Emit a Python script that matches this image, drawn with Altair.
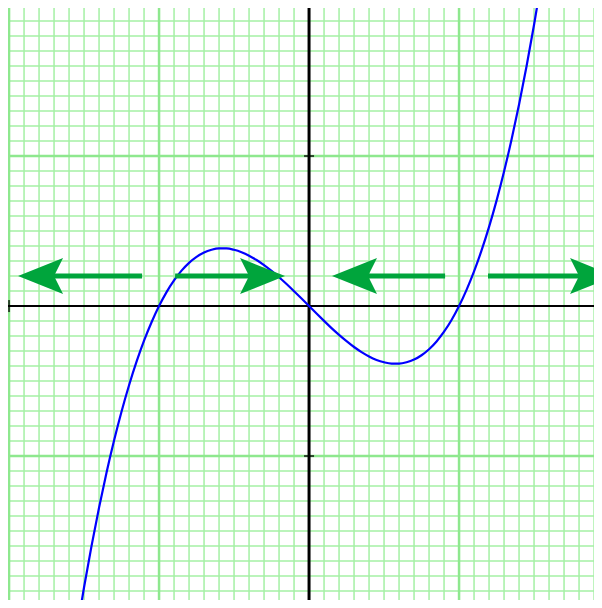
import altair as alt
import pandas as pd

# Curve readings (x, y) in graph units
curve_x = [-16, -15.5, -15, -14.5, -14, -13.5, -13, -12.5, -12, -11.5, -11, -10.5,
           -10, -9.5, -9, -8.5, -8, -7.5, -7, -6.5, -6, -5.5, -5, -4.5, -4, -3.5,
           -3, -2.5, -2, -1.5, -1, -0.5, 0, 0.5, 1, 1.5, 2, 2.5, 3, 3.5, 4, 4.5,
           5, 5.5, 6, 6.5, 7, 7.5, 8, 8.5, 9, 9.5, 10, 10.5, 11, 11.5, 12, 12.5,
           13, 13.5, 14, 14.5, 15, 15.5, 16]
curve_y = [-24.96, -21.74, -18.75, -15.99, -13.44, -11.10, -8.97, -7.03, -5.28, -3.71,
           -2.31, -1.08, 0.0, 0.93, 1.71, 2.36, 2.88, 3.28, 3.57, 3.75, 3.84, 3.84,
           3.75, 3.59, 3.36, 3.07, 2.73, 2.34, 1.92, 1.47, 0.99, 0.50, 0.0, -0.50,
           -0.99, -1.47, -1.92, -2.34, -2.73, -3.07, -3.36, -3.59, -3.75, -3.84,
           -3.84, -3.75, -3.57, -3.28, -2.88, -2.36, -1.71, -0.93, 0.0, 1.08, 2.31,
           3.71, 5.28, 7.03, 8.97, 11.10, 13.44, 15.99, 18.75, 21.74, 24.96]

# Grid positions
minor_grid = [-20, -19, -18, -17, -16, -15, -14, -13, -12, -11, -9, -8, -7, -6, -5,
              -4, -3, -2, -1, 1, 2, 3, 4, 5, 6, 7, 8, 9, 11, 12, 13, 14, 15, 16, 17,
              18, 19, 20]
major_grid = [-20, -10, 10, 20]
y_ticks = [-10, 10]
x_ticks = [-20]

# Arrows
arrow_y = [2, 2, 2, 2]
arrow_tail = [-11.13, -8.93, 9.07, 11.93]
arrow_tip = [-19.4, -1.6, 1.53, 20.4]
arrow_dir = ["left", "right", "left", "right"]

W, H = 586, 592
X0 = -20.07
X1 = X0 + W / 15
Y1 = 19.87
Y0 = Y1 - H / 15
GREEN = "#00a53c"

xs = alt.Scale(domain=[X0, X1], nice=False, zero=False)
ys = alt.Scale(domain=[Y0, Y1], nice=False, zero=False)

curve = pd.DataFrame({"x": curve_x, "y": curve_y})
minor = pd.DataFrame({"v": minor_grid})
major = pd.DataFrame({"v": major_grid})
yt = pd.DataFrame({"v": y_ticks})
xt = pd.DataFrame({"v": x_ticks})
arrows = pd.DataFrame({"y": arrow_y, "tail": arrow_tail, "tip": arrow_tip, "dir": arrow_dir})
sign = arrows["dir"].map({"left": 1, "right": -1})
arrows["shaft_end"] = arrows["tip"] + sign * 2.2
origin = pd.DataFrame({"v": [0]})

noaxis = alt.Axis(labels=False, ticks=False, domain=False, grid=False, title=None)

minor_v = alt.Chart(minor).mark_rule(color="#a4f0a4", strokeWidth=1.5).encode(
    x=alt.X("v:Q", scale=xs, axis=noaxis))
minor_h = alt.Chart(minor).mark_rule(color="#a4f0a4", strokeWidth=1.5).encode(
    y=alt.Y("v:Q", scale=ys, axis=noaxis))
major_v = alt.Chart(major).mark_rule(color="#8ee88e", strokeWidth=2.5).encode(
    x=alt.X("v:Q", scale=xs, axis=noaxis))
major_h = alt.Chart(major).mark_rule(color="#8ee88e", strokeWidth=2.5).encode(
    y=alt.Y("v:Q", scale=ys, axis=noaxis))

axis_v = alt.Chart(origin).mark_rule(color="black", strokeWidth=3).encode(
    x=alt.X("v:Q", scale=xs, axis=noaxis))
axis_h = alt.Chart(origin).mark_rule(color="black", strokeWidth=2).encode(
    y=alt.Y("v:Q", scale=ys, axis=noaxis))

ytick = alt.Chart(yt).mark_tick(color="black", orient="horizontal", size=10,
                                thickness=2).encode(
    x=alt.datum(0, scale=xs), y=alt.Y("v:Q", scale=ys, axis=noaxis))
xtick = alt.Chart(xt).mark_tick(color="black", orient="vertical", size=12,
                                thickness=2).encode(
    x=alt.X("v:Q", scale=xs, axis=noaxis), y=alt.datum(0, scale=ys))

line = alt.Chart(curve).mark_line(color="#0000ff", strokeWidth=2.2,
                                  interpolate="monotone", clip=True).encode(
    x=alt.X("x:Q", scale=xs, axis=noaxis), y=alt.Y("y:Q", scale=ys, axis=noaxis))

shaft = alt.Chart(arrows).mark_rule(color=GREEN, strokeWidth=5, strokeCap="butt",
                                    clip=True).encode(
    x=alt.X("tail:Q", scale=xs, axis=noaxis), x2="shaft_end:Q",
    y=alt.Y("y:Q", scale=ys, axis=noaxis))

left_path = "M0,0L2,-0.8L1.6,0L2,0.8Z"
right_path = "M0,0L-2,-0.8L-1.6,0L-2,0.8Z"
heads = alt.Chart(arrows).mark_point(filled=True, opacity=1, size=2025, color=GREEN,
                                     strokeWidth=0, clip=True).encode(
    x=alt.X("tip:Q", scale=xs, axis=noaxis), y=alt.Y("y:Q", scale=ys, axis=noaxis),
    shape=alt.Shape("dir:N", scale=alt.Scale(domain=["left", "right"],
                                             range=[left_path, right_path]),
                    legend=None))

chart = alt.layer(minor_v, minor_h, major_v, major_h, axis_v, axis_h, ytick, xtick,
                  line, shaft, heads).properties(
    width=W, height=H, padding=0, autosize=alt.AutoSizeParams(type="none"),
    background="white"
).configure_view(stroke=None)

chart.save("out.html", embed_options={"renderer": "svg", "actions": False})
